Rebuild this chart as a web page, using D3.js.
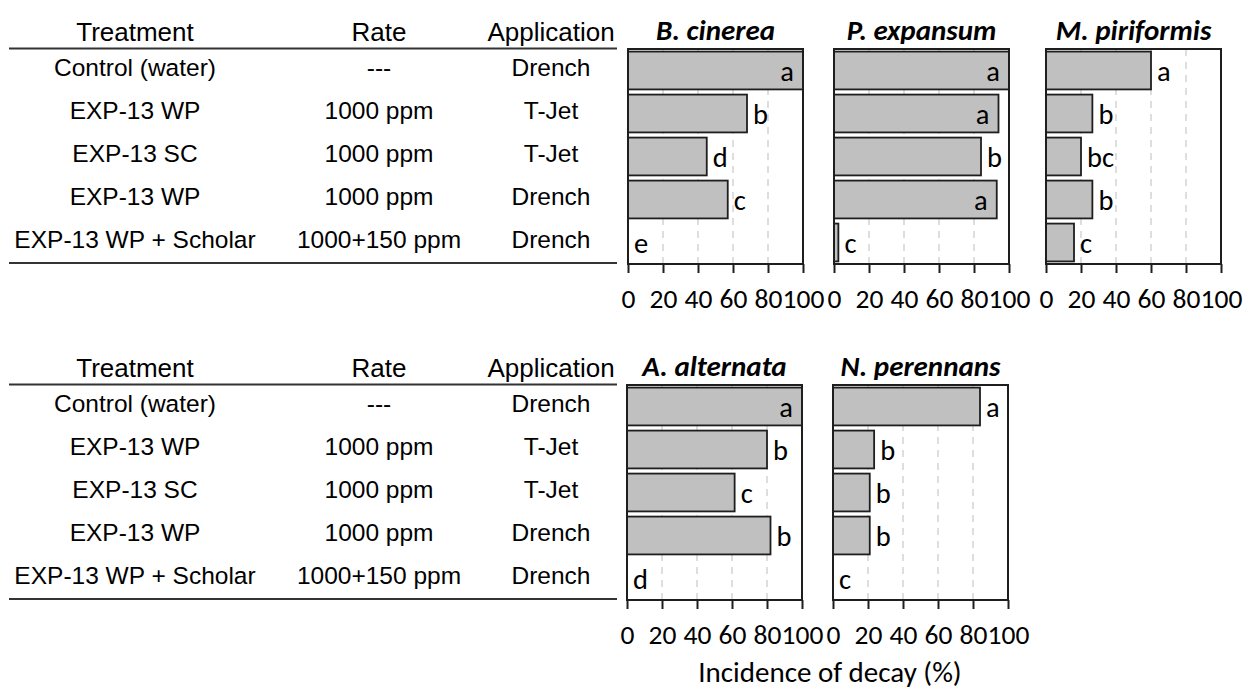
<!DOCTYPE html>
<html>
<head>
<meta charset="utf-8">
<script src="https://cdn.jsdelivr.net/npm/d3@7"></script>
<style>
  html, body { margin: 0; padding: 0; background: #fff; }
  svg { display: block; }
</style>
</head>
<body>
<svg id="chart" width="1246" height="692"></svg>
<script>
// ---------- data ----------
const headers = ["Treatment", "Rate", "Application"];
const treatments = ["Control (water)", "EXP-13 WP", "EXP-13 SC", "EXP-13 WP", "EXP-13 WP + Scholar"];
const rates = ["---", "1000 ppm", "1000 ppm", "1000 ppm", "1000+150 ppm"];
const applications = ["Drench", "T-Jet", "T-Jet", "Drench", "Drench"];

const pathogens = ["B. cinerea", "P. expansum", "M. piriformis", "A. alternata", "N. perennans"];
const bCinerea = [100, 68, 45, 57, 0];
const bCinereaLetters = ["a", "b", "d", "c", "e"];
const pExpansum = [100, 94, 84, 93, 2.5];
const pExpansumLetters = ["a", "a", "b", "a", "c"];
const mPiriformis = [60, 26.5, 20, 26.5, 16];
const mPiriformisLetters = ["a", "b", "bc", "b", "c"];
const aAlternata = [100, 80, 61.5, 82, 0];
const aAlternataLetters = ["a", "b", "c", "b", "d"];
const nPerennans = [84, 23.5, 21, 21, 0];
const nPerennansLetters = ["a", "b", "b", "b", "c"];

const xTicks = [0, 20, 40, 60, 80, 100];
const axisTitle = "Incidence of decay (%)";

// ---------- layout ----------
const svg = d3.select("#chart");
const tableFont = "'Liberation Sans', Arial, sans-serif";
const chartFont = "Carlito, Calibri, Lato, sans-serif";
const ink = "#1e1e1e";

const rowTop = [49, 385];
const plotH = 215;
const plotW = 175;

const panels = [
  { name: pathogens[0], values: bCinerea, letters: bCinereaLetters, x0: 628, row: 0 },
  { name: pathogens[1], values: pExpansum, letters: pExpansumLetters, x0: 834, row: 0 },
  { name: pathogens[2], values: mPiriformis, letters: mPiriformisLetters, x0: 1046, row: 0 },
  { name: pathogens[3], values: aAlternata, letters: aAlternataLetters, x0: 627, row: 1 },
  { name: pathogens[4], values: nPerennans, letters: nPerennansLetters, x0: 833, row: 1 }
];

// ---------- tables ----------
const colX = [135, 379, 551];
rowTop.forEach(top => {
  const y = d3.scaleBand().domain(d3.range(treatments.length))
    .range([top, top + plotH]).paddingInner(0.12).paddingOuter(0.06);
  const g = svg.append("g");
  headers.forEach((h, i) => {
    g.append("text")
      .attr("x", colX[i]).attr("y", top - 8)
      .attr("text-anchor", "middle")
      .attr("font-family", tableFont).attr("font-size", 26)
      .attr("fill", "#000").text(h);
  });
  g.append("line").attr("x1", 9).attr("x2", 617)
    .attr("y1", top - 0.5).attr("y2", top - 0.5)
    .attr("stroke", "#333").attr("stroke-width", 2);
  g.append("line").attr("x1", 9).attr("x2", 617)
    .attr("y1", top + plotH - 1).attr("y2", top + plotH - 1)
    .attr("stroke", "#333").attr("stroke-width", 2);
  [treatments, rates, applications].forEach((col, ci) => {
    col.forEach((t, ri) => {
      g.append("text")
        .attr("x", colX[ci])
        .attr("y", y(ri) + y.bandwidth() / 2 + 5.5)
        .attr("text-anchor", "middle")
        .attr("font-family", tableFont).attr("font-size", 24.5)
        .attr("fill", "#000").text(t);
    });
  });
});

// ---------- panels ----------
panels.forEach(p => {
  const top = rowTop[p.row];
  const x = d3.scaleLinear().domain([0, 100]).range([p.x0, p.x0 + plotW]);
  const y = d3.scaleBand().domain(d3.range(p.values.length))
    .range([top, top + plotH]).paddingInner(0.12).paddingOuter(0.06);
  const g = svg.append("g");

  // gridlines
  g.selectAll(".grid").data(xTicks.filter(t => t > 0 && t < 100)).enter()
    .append("line")
    .attr("x1", d => x(d)).attr("x2", d => x(d))
    .attr("y1", top).attr("y2", top + plotH)
    .attr("stroke", "#d4d4d4").attr("stroke-width", 1.5)
    .attr("stroke-dasharray", "7,6");

  // bars
  p.values.forEach((v, i) => {
    if (v <= 0) return;
    g.append("rect")
      .attr("x", x(0)).attr("y", y(i))
      .attr("width", x(v) - x(0)).attr("height", y.bandwidth())
      .attr("fill", "#c0c0c0").attr("stroke", ink).attr("stroke-width", 1.8);
  });

  // letters
  p.values.forEach((v, i) => {
    const inside = v > 90;
    g.append("text")
      .attr("x", inside ? x(v) - 9 : x(v) + 6)
      .attr("y", y(i) + y.bandwidth() / 2 + 10)
      .attr("text-anchor", inside ? "end" : "start")
      .attr("font-family", chartFont).attr("font-size", 28.5)
      .attr("fill", "#000").text(p.letters[i]);
  });

  // frame
  g.append("rect")
    .attr("x", x(0)).attr("y", top)
    .attr("width", plotW).attr("height", plotH)
    .attr("fill", "none").attr("stroke", ink).attr("stroke-width", 2);

  // axis
  const axis = d3.axisBottom(x).tickValues(xTicks).tickSize(9).tickPadding(15)
    .tickFormat(d3.format("d"));
  const ag = g.append("g").attr("transform", `translate(0,${top + plotH})`).call(axis);
  ag.select(".domain").remove();
  ag.selectAll(".tick line").attr("stroke", ink).attr("stroke-width", 2);
  ag.selectAll(".tick text")
    .attr("font-family", chartFont).attr("font-size", 27.5)
    .attr("fill", "#000").attr("dy", "0.71em");

  // title
  g.append("text")
    .attr("x", x(50)).attr("y", top - 9)
    .attr("text-anchor", "middle")
    .attr("font-family", chartFont).attr("font-size", 29)
    .attr("font-weight", "bold").attr("font-style", "italic")
    .attr("fill", "#000").text(p.name);
});

// axis title
svg.append("text")
  .attr("x", 830).attr("y", 682)
  .attr("text-anchor", "middle")
  .attr("font-family", chartFont).attr("font-size", 29)
  .attr("fill", "#000").text(axisTitle);
</script>
</body>
</html>
